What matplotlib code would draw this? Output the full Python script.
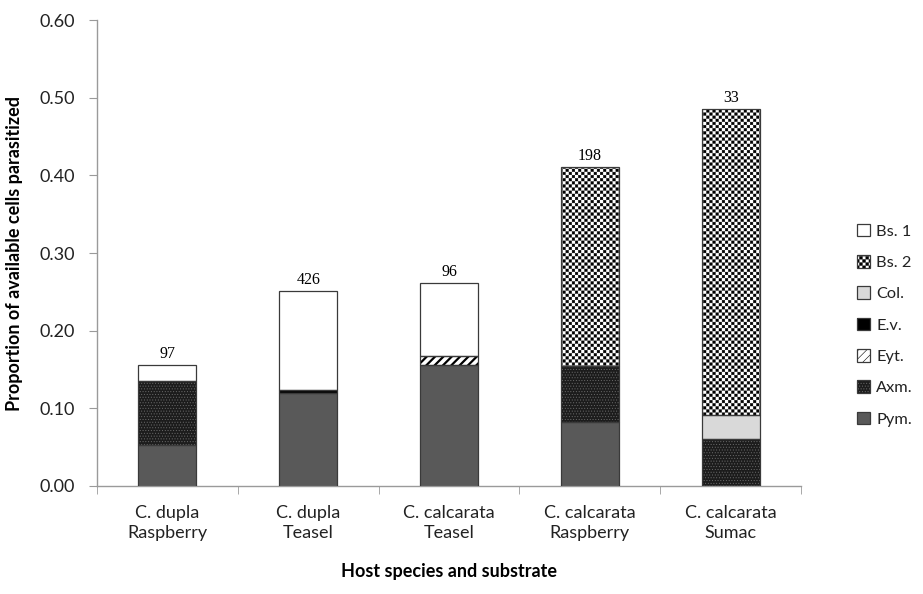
import warnings
import numpy as np
import matplotlib
matplotlib.use("Agg")
import matplotlib as mpl
import matplotlib.pyplot as plt
import matplotlib.hatch as mhatch
from matplotlib.path import Path
from matplotlib.patches import Patch
from matplotlib.legend_handler import HandlerTuple

# ---- data -------------------------------------------------------------
categories = ["C. dupla\nRaspberry", "C. dupla\nTeasel", "C. calcarata\nTeasel",
              "C. calcarata\nRaspberry", "C. calcarata\nSumac"]
n_cells = [97, 426, 96, 198, 33]

# stacked components (bottom to top)
pym = [0.053, 0.120, 0.156, 0.082, 0.000]
axm = [0.082, 0.000, 0.000, 0.072, 0.061]
eyt = [0.000, 0.000, 0.011, 0.000, 0.000]
ev = [0.000, 0.003, 0.000, 0.000, 0.000]
col = [0.000, 0.000, 0.000, 0.000, 0.030]
bs2 = [0.000, 0.000, 0.000, 0.257, 0.395]
bs1 = [0.021, 0.128, 0.094, 0.000, 0.000]

y_ticks = [0.0, 0.1, 0.2, 0.3, 0.4, 0.5, 0.6]


# ---- checkerboard hatch ('c') -----------------------------------------
class CheckerHatch(mhatch.HatchPatternBase):
    filled = True

    def __init__(self, hatch, density):
        self.n = 16 * hatch.count('c')
        self.num_squares = (self.n * self.n) // 2 if self.n else 0
        self.num_vertices = self.num_squares * 5

    def set_vertices_and_codes(self, vertices, codes):
        n = self.n
        s = 1.0 / n
        pad = 0.08 * s
        k = 0
        for i in range(n):
            for j in range(n):
                if (i + j) % 2:
                    continue
                x0, y0 = i * s + pad, j * s + pad
                x1, y1 = (i + 1) * s - pad, (j + 1) * s - pad
                vertices[k:k + 5] = [(x0, y0), (x1, y0), (x1, y1), (x0, y1), (x0, y0)]
                codes[k:k + 5] = [Path.MOVETO, Path.LINETO, Path.LINETO,
                                  Path.LINETO, Path.CLOSEPOLY]
                k += 5


mhatch._hatch_types.append(CheckerHatch)
warnings.filterwarnings("ignore")

# ---- styles ------------------------------------------------------------
plt.rcParams['font.family'] = ['Lato', 'DejaVu Sans']
mpl.rcParams['hatch.linewidth'] = 0.4

series = [
    ("Pym.", pym, dict(facecolor="#595959", hatch=None, hcolor="#595959")),
    ("Axm.", axm, dict(facecolor="#1c1c1c", hatch="......", hcolor="#6a6a6a")),
    ("Eyt.", eyt, dict(facecolor="white", hatch="////", hcolor="black")),
    ("E.v.", ev, dict(facecolor="black", hatch=None, hcolor="black")),
    ("Col.", col, dict(facecolor="#d9d9d9", hatch=None, hcolor="#d9d9d9")),
    ("Bs. 2", bs2, dict(facecolor="white", hatch="cc", hcolor="black")),
    ("Bs. 1", bs1, dict(facecolor="white", hatch=None, hcolor="white")),
]
hatch_lw = {"////": 1.6, "......": 0.4, "cc": 0.3}
outline = "#3a3a3a"

fig = plt.figure(figsize=(9.23, 5.94), dpi=100)
ax = fig.add_axes([0.105, 0.182, 0.763, 0.784])

x = np.arange(len(categories))
width = 0.41
bottom = np.zeros(len(categories))
handles = []
for name, vals, st in series:
    vals = np.asarray(vals)
    lw = hatch_lw.get(st["hatch"], 0.4)
    with mpl.rc_context({'hatch.linewidth': lw}):
        ax.bar(x, vals, width, bottom=bottom, color=st["facecolor"],
               hatch=st["hatch"], edgecolor=st["hcolor"], linewidth=0, zorder=2)
        fill_patch = Patch(facecolor=st["facecolor"], hatch=st["hatch"],
                           edgecolor=st["hcolor"], linewidth=0)
    edge_patch = Patch(fill=False, edgecolor=outline, linewidth=0.9)
    handles.append(((fill_patch, edge_patch), name))
    # segment outlines
    ax.bar(x[vals > 0], vals[vals > 0], width, bottom=bottom[vals > 0],
           fill=False, edgecolor=outline, linewidth=0.9, zorder=3)
    bottom = bottom + vals

# sample sizes on top of each bar
for xi, top, n in zip(x, bottom, n_cells):
    ax.text(xi, top + 0.004, str(n), ha="center", va="bottom",
            family="Liberation Serif", fontsize=11.5, color="black")

ax.set_xlim(-0.5, len(categories) - 0.5)
ax.set_ylim(0, 0.6)
ax.set_yticks(y_ticks)
ax.set_yticklabels([f"{v:.2f}" for v in y_ticks], fontsize=13, color="#222222")
ax.set_xticks(x)
ax.set_xticklabels(categories, fontsize=13, color="#222222", linespacing=1.25)
ax.tick_params(axis="x", length=0, pad=14)
ax.set_xticks(np.arange(-0.5, len(categories) + 0.5, 1.0), minor=True)
ax.tick_params(axis="x", which="minor", length=6, color="#9a9a9a", direction="out")
ax.tick_params(axis="y", length=6, color="#9a9a9a", direction="out", pad=10)

for side in ("top", "right"):
    ax.spines[side].set_visible(False)
for side in ("left", "bottom"):
    ax.spines[side].set_color("#9a9a9a")
    ax.spines[side].set_linewidth(1.0)

ax.set_ylabel("Proportion of available cells parasitized", fontsize=13,
              fontweight="bold", labelpad=12)
ax.set_xlabel("Host species and substrate", fontsize=13, fontweight="bold",
              labelpad=16)

leg_handles = [h for h, _ in handles[::-1]]
leg_labels = [l for _, l in handles[::-1]]
leg = ax.legend(leg_handles, leg_labels, loc="center left",
                handler_map={tuple: HandlerTuple(ndivide=1, pad=0)},
                bbox_to_anchor=(1.058, 0.345), frameon=False, fontsize=11.8,
                handlelength=0.8, handleheight=0.8, handletextpad=0.4,
                labelspacing=1.0)
for t in leg.get_texts():
    t.set_color("#222222")

fig.savefig("out.png", dpi=100)
